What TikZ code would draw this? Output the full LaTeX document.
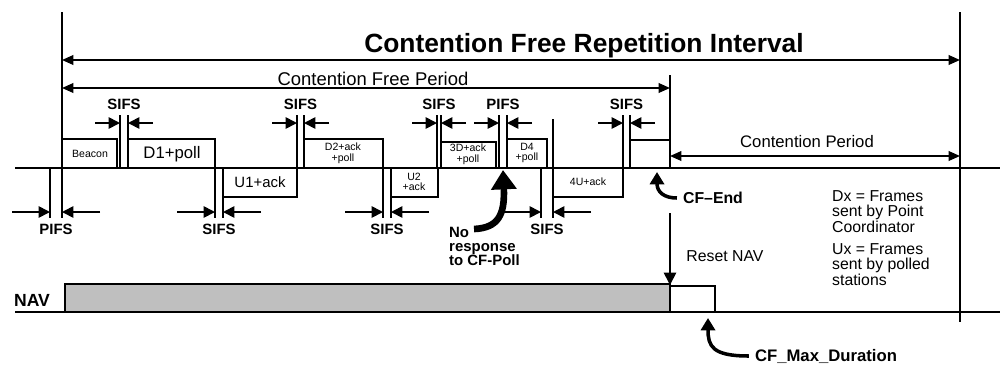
\documentclass[tikz,border=0pt]{standalone}
\usepackage{fontspec}
\setmainfont{Liberation Sans}
\usetikzlibrary{arrows.meta, positioning}

\begin{document}
\begin{tikzpicture}[
    x=0.2mm, y=-0.2mm,
    line/.style={line width=1pt},
    frame/.style={draw, line width=1pt},
    gaparrow/.style={-{Triangle[length=6.5pt,width=6.5pt]}, line width=1pt},
    span/.style={{Triangle[length=6.5pt,width=5.5pt]}-{Triangle[length=6.5pt,width=5.5pt]}, line width=1pt},
    gaplabel/.style={font=\fontsize{8.5}{9}\selectfont\bfseries},
    boxlabel/.style={font=\fontsize{6}{6}\selectfont, align=center},
    note/.style={font=\fontsize{9}{9}\selectfont, align=left, anchor=north west},
    hook/.style={-{Triangle[length=7pt,width=8pt]}, line width=2pt}
]
\useasboundingbox (0,0) rectangle (1000,368);

% limits of the repetition interval
\draw[line] (62,12) -- (62,217);
\draw[line] (960,12) -- (960,322);
\draw[span] (62,60) -- (960,60);
\node[font=\fontsize{15}{17}\selectfont\bfseries] (cfri) at (584,46) {Contention Free Repetition Interval};

\draw[line] (670,75) -- (670,168);
\draw[span] (62,88) -- (670,88);
\node[font=\fontsize{10.5}{11}\selectfont] (cfp) at (373,79) {Contention Free Period};

% medium
\draw[line width=1.2pt] (15,168) -- (1000,168);

% frames sent by the point coordinator
\draw[frame] (62,139) rectangle (117,168);
\node[boxlabel] (beacon) at (90,154) {Beacon};
\draw[frame] (128,139) rectangle (215,168);
\node[font=\fontsize{9.5}{9}\selectfont] (d1) at (172,154) {D1+poll};
\draw[frame] (304,139) rectangle (383,168);
\node[boxlabel] (d2) at (343,153) {D2+ack\\+poll};
\draw[frame] (441,142) rectangle (496,168);
\node[boxlabel] (d3) at (468,154) {3D+ack\\+poll};
\draw[frame] (507,139) rectangle (547,168);
\node[boxlabel] (d4) at (527,153) {D4\\+poll};
\draw[frame] (630,140) rectangle (670,168);

% frames sent by polled stations
\draw[frame] (223,168) rectangle (297,197);
\node[font=\fontsize{8.5}{8}\selectfont] (u1) at (260,182) {U1+ack};
\draw[frame] (391,168) rectangle (438,197);
\node[boxlabel] (u2) at (414,182) {U2\\+ack};
\draw[frame] (553,168) rectangle (623,197);
\node[boxlabel] (u4) at (588,182) {4U+ack};

% interframe spaces
\foreach \a/\b/\t in {120/128/SIFS, 297/304/SIFS, 437/441/SIFS, 499/507/PIFS, 623/630/SIFS} {
    \draw[line] (\a,115) -- (\a,168) (\b,115) -- (\b,168);
    \draw[gaparrow] ({\a-25},123) -- (\a,123);
    \draw[gaparrow] ({\b+25},123) -- (\b,123);
    \node[gaplabel] (top-\a) at ({(\a+\b)/2},104) {\t};
}
\foreach \a/\b/\t in {50/62/PIFS, 215/223/SIFS, 383/391/SIFS, 541/553/SIFS} {
    \draw[line] (\a,168) -- (\a,218) (\b,168) -- (\b,218);
    \draw[gaparrow] ({\a-38},212) -- (\a,212);
    \draw[gaparrow] ({\b+38},212) -- (\b,212);
    \node[gaplabel] (bot-\a) at ({(\a+\b)/2},229) {\t};
}
\draw[line] (553,119) -- (553,168);

\draw[span] (670,156) -- (960,156);
\node[font=\fontsize{9.5}{10}\selectfont] (cp) at (807,142) {Contention Period};

% no response
\node[note, font=\fontsize{8.5}{8}\selectfont\bfseries] (noresp) at (443,221) {No\\response\\to CF-Poll};
\coordinate (nrtail) at (474,229);
\coordinate (nrtip) at (503,170);
\draw[line width=3.8pt, -{Triangle[length=11pt,width=14pt]}] (nrtail) .. controls (498,228) and (505,215) .. (nrtip);

% end of the contention free period
\node[font=\fontsize{9}{9}\selectfont\bfseries] (cfend) at (713,198) {CF--End};
\coordinate (cfendtip) at (657,172);
\draw[hook] (cfend.west) .. controls (664,198) and (657,192) .. (cfendtip);

\draw[line, -{Triangle[length=7pt,width=7pt]}] (670,213) -- (670,285);
\node[font=\fontsize{9}{9}\selectfont] (reset) at (725,256) {Reset NAV};

\node[note] (dxnote) at (826,184) {Dx = Frames\\sent by Point\\Coordinator};
\node[note] (uxnote) at (826,237) {Ux = Frames\\sent by polled\\stations};

% network allocation vector
\node[font=\fontsize{10}{10}\selectfont\bfseries] (nav) at (32,300) {NAV};
\draw[line] (15,312) -- (1000,312);
\draw[line, fill=black!25] (65,284) rectangle (670,312);
\draw[line] (670,286) rectangle (715,312);

\node[font=\fontsize{9.5}{10}\selectfont\bfseries] (cfmax) at (826,356) {CF\_Max\_Duration};
\coordinate (maxtip) at (708,318);
\draw[hook] (cfmax.west) .. controls (712,356) and (708,346) .. (maxtip);

\end{tikzpicture}
\end{document}
